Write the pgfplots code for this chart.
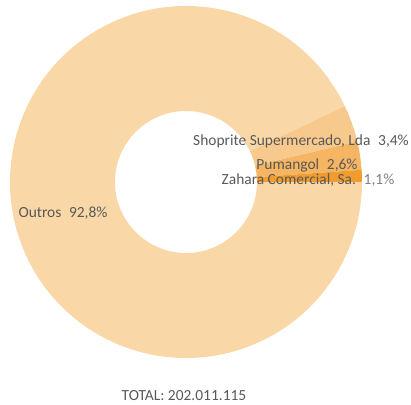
\documentclass[border=0pt]{standalone}
\usepackage{pgfplots}
\usepackage{pgfplotstable}
\pgfplotsset{compat=1.18}
\usepackage{fontspec}
\setmainfont{Carlito}
\definecolor{cOut}{HTML}{FAD7A6}
\definecolor{cSho}{HTML}{F8C98C}
\definecolor{cPum}{HTML}{F5B562}
\definecolor{cZah}{HTML}{F09C2E}
\definecolor{txt}{HTML}{595959}
\definecolor{txtl}{HTML}{7F7F7F}
\pgfplotstableread{
name value
Zahara 1.1
Pumangol 2.6
Shoprite 3.4
Outros 92.8
}\slices
\newcommand\cx{186}
\newcommand\cy{223}
\newcommand\ro{176}
\newcommand\ri{71}
\newcommand\sector[3]{%
  \fill[#3] (axis cs:{\cx+\ro*cos(#1)},{\cy+\ro*sin(#1)}) arc[start angle=#1,end angle=#2,radius=\ro bp]
   -- (axis cs:{\cx+\ri*cos(#2)},{\cy+\ri*sin(#2)}) arc[start angle=#2,end angle=#1,radius=\ri bp] -- cycle;}
\begin{document}
\begin{tikzpicture}
\pgfplotstablegetelem{0}{value}\of\slices \let\vA\pgfplotsretval
\pgfplotstablegetelem{1}{value}\of\slices \let\vB\pgfplotsretval
\pgfplotstablegetelem{2}{value}\of\slices \let\vC\pgfplotsretval
\pgfplotstablegetelem{3}{value}\of\slices \let\vD\pgfplotsretval
\pgfmathsetmacro\total{\vA+\vB+\vC+\vD}
\pgfmathsetmacro\aA{0}
\pgfmathsetmacro\aB{\vA/\total*360}
\pgfmathsetmacro\aC{(\vA+\vB)/\total*360}
\pgfmathsetmacro\aD{(\vA+\vB+\vC)/\total*360}
\pgfmathsetmacro\aE{360}
\begin{axis}[x=1bp,y=1bp,xmin=0,xmax=411,ymin=0,ymax=405,hide axis,clip=false,
  scale only axis]
\coordinate (ll) at (axis cs:0,0);
\coordinate (ur) at (axis cs:411,405);
\sector{\aD}{\aE}{cOut}
\sector{\aC}{\aD}{cSho}
\sector{\aB}{\aC}{cPum}
\sector{\aA}{\aB}{cZah}
\node[font=\fontsize{15.5}{18}\selectfont,text=txt] at (axis cs:301,264) {Shoprite Supermercado, Lda\enspace 3,4\%};
\node[font=\fontsize{15.5}{18}\selectfont,text=txt] at (axis cs:307,240) {Pumangol\enspace 2,6\%};
\node[font=\fontsize{15.5}{18}\selectfont,text=txt] at (axis cs:308,225) {Zahara Comercial, Sa.\enspace \textcolor{txtl}{1,1\%}};
\node[font=\fontsize{15.5}{18}\selectfont,text=txt] at (axis cs:63,192) {Outros\enspace 92,8\%};
\node[font=\fontsize{15.5}{18}\selectfont,text=txt] at (axis cs:184,9) {TOTAL: 202.011.115};
\end{axis}
\pgfresetboundingbox
\path (ll) rectangle (ur);
\end{tikzpicture}
\end{document}
